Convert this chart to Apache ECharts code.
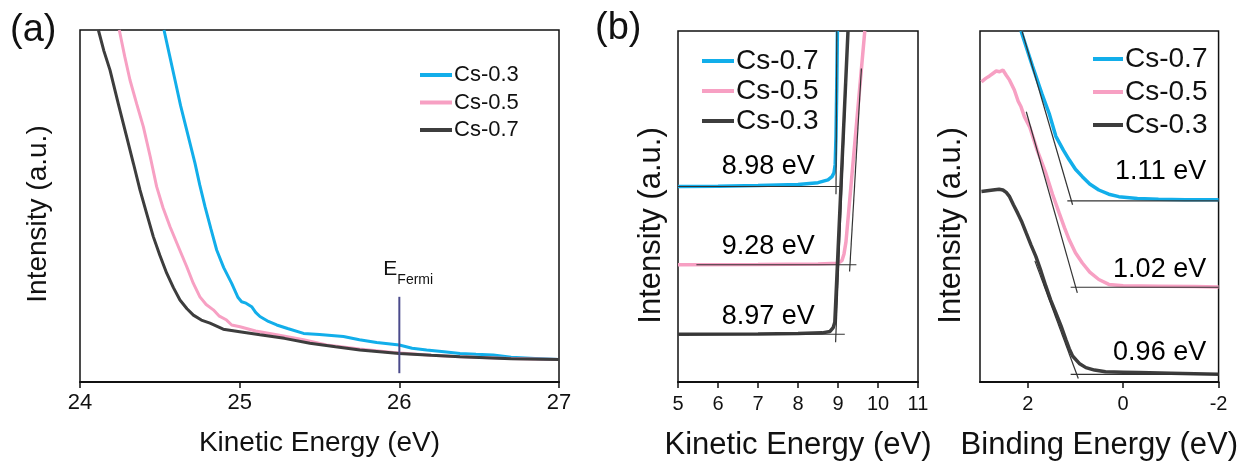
<!DOCTYPE html>
<html>
<head>
<meta charset="utf-8">
<script src="https://cdn.jsdelivr.net/npm/echarts@6/dist/echarts.min.js"></script>
<style>
html, body { margin: 0; padding: 0; background: #fff; }
#chart { width: 1241px; height: 466px; }
</style>
</head>
<body>
<div id="chart"></div>
<script>
// (a) secondary electron cut-off, kinetic energy 24-27 eV
var keA03 = [24.526, 24.56, 24.595, 24.63, 24.668, 24.72, 24.75, 24.783, 24.82, 24.856, 24.9, 24.95, 24.99, 25.012, 25.04, 25.075, 25.1, 25.127, 25.18, 25.232, 25.3, 25.4, 25.5, 25.65, 25.75, 25.858, 26.0, 26.08, 26.171, 26.28, 26.38, 26.48, 26.588, 26.7, 26.85, 27.0];
var intA03 = [100, 93, 85.8, 78.5, 71.6, 62.2, 56, 49.8, 43.5, 37.5, 32.5, 28.0, 24, 22.8, 22.4, 21.4, 19.8, 18.6, 17.2, 16.2, 15.2, 13.8, 13.5, 12.9, 12.0, 11.2, 10.5, 9.6, 9.1, 8.6, 8.1, 7.9, 7.7, 7.0, 6.7, 6.4];
var keA05 = [24.246, 24.28, 24.313, 24.355, 24.397, 24.44, 24.48, 24.52, 24.564, 24.62, 24.668, 24.71, 24.751, 24.79, 24.835, 24.87, 24.918, 24.95, 25.002, 25.1, 25.232, 25.4, 25.545, 25.75, 25.962, 26.2, 26.38, 26.7, 27.0];
var intA05 = [100, 92.5, 85.8, 79, 72.5, 64, 55.5, 49.5, 44.1, 38, 32.8, 28, 24.2, 22, 20.5, 18.8, 17.6, 16.2, 15.7, 14.5, 13.4, 12, 10.5, 9.4, 8.4, 7.6, 7.2, 6.7, 6.4];
var keA07 = [24.115, 24.15, 24.188, 24.24, 24.292, 24.335, 24.376, 24.42, 24.459, 24.5, 24.543, 24.585, 24.626, 24.67, 24.71, 24.76, 24.814, 24.897, 25.0, 25.127, 25.28, 25.44, 25.6, 25.753, 26.0, 26.2, 26.38, 26.7, 27.0];
var intA07 = [100, 94, 88.6, 79, 69.7, 62, 54.5, 47.5, 41.3, 36, 30.9, 26.8, 23.3, 20.8, 19.0, 17.6, 16.7, 15.0, 14.3, 13.4, 12.4, 11.0, 10.0, 9.1, 8.1, 7.6, 7.2, 6.6, 6.4];
var fermiKE = [26, 26];
var fermiInt = [2.5, 24.2];

// (b) left: cut-off edge, kinetic energy 5-11 eV
var keB07 = [5, 6, 7, 8, 8.5, 8.75, 8.85, 8.9, 8.93, 8.95, 8.97, 8.985];
var intB07 = [55.7, 55.8, 56.0, 56.3, 56.8, 57.6, 58.5, 59.6, 62, 70, 85, 100];
var keB05 = [5, 7, 8.5, 9.0, 9.1, 9.15, 9.2, 9.67];
var intB05 = [33.4, 33.5, 33.6, 33.8, 34.6, 36.5, 40, 100];
var keB03 = [5, 7, 8, 8.6, 8.8, 8.88, 8.92, 9.25];
var intB03 = [13.6, 13.7, 13.8, 14.0, 14.4, 15.5, 17, 100];
var fitsB1 = [
  [[5, 55.7], [9.04, 55.7]], [[8.97, 100], [8.95, 53.5]],
  [[5.46, 33.4], [9.46, 33.4]], [[9.585, 89.3], [9.29, 31.5]],
  [[5, 13.6], [9.17, 13.6]], [[8.94, 11.3], [9.2, 85]]
];
var gapTextB1 = ['8.98 eV', '9.28 eV', '8.97 eV'];
var gapIntB1 = [61.4, 38.6, 18.75];

// (b) right: valence band edge, binding energy 3 to -2 eV
var beB07 = [2.14, 1.9, 1.7, 1.55, 1.41, 1.25, 1.13, 1.0, 0.855, 0.7, 0.51, 0.3, 0.09, -0.3, -0.74, -1.3, -2];
var intBE07 = [100, 90, 82, 76.5, 70, 66, 63.3, 60.6, 58.5, 56.4, 54.7, 53.5, 52.8, 52.3, 52.1, 51.9, 51.9];
var beB05 = [2.97, 2.88, 2.8, 2.73, 2.66, 2.59, 2.52, 2.45, 2.38, 2.28, 2.2, 2.14, 2.07, 1.96, 1.8, 1.62, 1.48, 1.34, 1.23, 1.13, 1.0, 0.855, 0.7, 0.51, 0.3, 0.0, -0.74, -1.5, -2];
var intBE05 = [85.5, 86.5, 87.2, 87.9, 88.6, 88.4, 88.9, 87.4, 86, 83.2, 80, 78.4, 75.6, 72.7, 66, 59.5, 53.5, 48.1, 44, 40.5, 36.8, 33.9, 31.3, 29.2, 27.8, 27.4, 27.3, 27.2, 27.1];
var beB03 = [2.97, 2.85, 2.73, 2.6, 2.52, 2.45, 2.38, 2.3, 2.21, 2.12, 2.03, 1.93, 1.83, 1.72, 1.62, 1.52, 1.41, 1.3, 1.2, 1.13, 1.06, 0.92, 0.78, 0.6, 0.37, 0.0, -0.33, -1.0, -2];
var intBE03 = [54.3, 54.5, 54.7, 54.9, 54.7, 54, 52.8, 50.5, 48.1, 45.5, 42.4, 39, 35.8, 31.5, 27.3, 23.4, 19.7, 15.9, 12.1, 9.5, 7.4, 5.3, 4.1, 3.4, 2.9, 2.8, 2.7, 2.5, 2.2];
var fitsB2 = [
  [[2.12, 100], [1.06, 50.5]], [[1.17, 51.6], [-2, 51.6]],
  [[2.03, 77.0], [0.96, 25.4]], [[1.10, 27.0], [-2, 27.0]],
  [[1.85, 34.5], [0.94, 1.0]], [[1.10, 2.2], [-2, 2.2]]
];
var gapTextB2 = ['1.11 eV', '1.02 eV', '0.96 eV'];
var gapIntB2 = [59.9, 32.0, 8.35];

var FONT = 'Liberation Sans, Arial, sans-serif';
var BLUE = '#12aeea', PINK = '#f7a0c3', DARK = '#3d3d3d', INK = '#111';

function pairs(xs, ys) {
  return xs.map(function (x, i) { return [x, ys[i]]; });
}

function curve(name, g, xs, ys, color, w) {
  return {
    name: name, type: 'line', xAxisIndex: g, yAxisIndex: g,
    data: pairs(xs, ys), symbol: 'none', silent: true, z: 2,
    lineStyle: { color: color, width: w }, itemStyle: { color: color }
  };
}

function fits(g, list) {
  return list.map(function (seg) {
    return {
      type: 'line', xAxisIndex: g, yAxisIndex: g, data: seg, symbol: 'none',
      silent: true, z: 3, lineStyle: { color: '#333', width: 1.2 }
    };
  });
}

// band gap / cut-off values written next to each curve
function gapLabels(g, x, texts, ys) {
  return {
    type: 'scatter', xAxisIndex: g, yAxisIndex: g, symbolSize: 0, silent: true, z: 4,
    itemStyle: { opacity: 1 },
    data: texts.map(function (t, i) { return { value: [x, ys[i]], label: { formatter: t } }; }),
    label: { show: true, position: 'left', distance: 0, fontSize: 27, color: '#000', opacity: 1, fontFamily: FONT }
  };
}

function xAx(g, min, max, name, labelSize, nameSize, extra) {
  var ax = {
    gridIndex: g, type: 'value', min: min, max: max, interval: 1,
    axisLine: { show: true, lineStyle: { color: INK, width: 2 } },
    axisTick: { show: true, length: 6, lineStyle: { color: INK, width: 1.5 } },
    axisLabel: { fontSize: labelSize, margin: 10, color: INK, fontFamily: FONT },
    splitLine: { show: false },
    name: name, nameLocation: 'middle', nameGap: 47,
    nameTextStyle: { fontSize: nameSize, color: INK, fontFamily: FONT }
  };
  return Object.assign(ax, extra || {});
}

function yAx(g, gap, shift, size) {
  return {
    gridIndex: g, type: 'value', min: 0, max: 100,
    axisLine: { show: false }, axisTick: { show: false }, axisLabel: { show: false },
    splitLine: { show: false },
    name: 'Intensity (a.u.)', nameLocation: 'middle', nameGap: gap,
    nameTextStyle: { fontSize: size, color: INK, fontFamily: FONT, padding: [0, shift * 2, 0, 0] }
  };
}

function legendAt(left, top, size, gap, iconW, items) {
  return {
    orient: 'vertical', left: left, top: top, icon: 'rect',
    itemWidth: iconW, itemHeight: 4, itemGap: gap, selectedMode: false,
    textStyle: { fontSize: size, lineHeight: size, color: INK, fontFamily: FONT, padding: [0, 0, 0, -3] },
    data: items.map(function (it) { return { name: it[0], itemStyle: { color: it[1] } }; })
  };
}

var chart = echarts.init(document.getElementById('chart'));

var series = [
  curve('Cs-0.3', 0, keA03, intA03, BLUE, 3),
  curve('Cs-0.5', 0, keA05, intA05, PINK, 3),
  curve('Cs-0.7', 0, keA07, intA07, DARK, 3),
  {
    type: 'line', xAxisIndex: 0, yAxisIndex: 0, data: pairs(fermiKE, fermiInt),
    symbol: 'none', silent: true, z: 4, lineStyle: { color: '#4b4b8c', width: 2 }
  },
  curve('Cs-0.7', 1, keB07, intB07, BLUE, 3.5),
  curve('Cs-0.5', 1, keB05, intB05, PINK, 3.5),
  curve('Cs-0.3', 1, keB03, intB03, DARK, 3.5),
  curve('Cs-0.7', 2, beB07, intBE07, BLUE, 3.5),
  curve('Cs-0.5', 2, beB05, intBE05, PINK, 3.5),
  curve('Cs-0.3', 2, beB03, intBE03, DARK, 3.5),
  gapLabels(1, 8.42, gapTextB1, gapIntB1),
  gapLabels(2, -1.74, gapTextB2, gapIntB2)
].concat(fits(1, fitsB1), fits(2, fitsB2));

var option = {
  animation: false,
  backgroundColor: '#fff',
  textStyle: { fontFamily: FONT },
  grid: [
    { left: 80, top: 30, width: 479, height: 352, show: true, borderColor: INK, borderWidth: 1.5 },
    { left: 678, top: 31, width: 240, height: 352, show: true, borderColor: INK, borderWidth: 1.5 },
    { left: 980, top: 31, width: 240, height: 352, show: true, borderColor: INK, borderWidth: 1.5 }
  ],
  xAxis: [
    xAx(0, 24, 27, 'Kinetic Energy (eV)', 22, 28),
    xAx(1, 5, 11, 'Kinetic Energy (eV)', 20, 31, { nameGap: 48, axisLabel: { fontSize: 20, margin: 12, color: INK, fontFamily: FONT } }),
    xAx(2, -2, 3, 'Binding Energy (eV)', 20, 31, {
      inverse: true, interval: 2, nameGap: 48,
      axisTick: { show: true, length: 6, customValues: [2, 0, -2], lineStyle: { color: INK, width: 1.5 } },
      axisLabel: { fontSize: 20, margin: 12, color: INK, fontFamily: FONT, customValues: [2, 0, -2] }
    })
  ],
  yAxis: [yAx(0, 28, 8, 28), yAx(1, 11, 19, 31), yAx(2, 13, 19, 31)],
  legend: [
    legendAt(415, 59, 22, 5.5, 32, [['Cs-0.3', BLUE], ['Cs-0.5', PINK], ['Cs-0.7', DARK]]),
    legendAt(697, 42, 28, 2, 32, [['Cs-0.7', BLUE], ['Cs-0.5', PINK], ['Cs-0.3', DARK]]),
    legendAt(1088, 40, 28, 5, 30, [['Cs-0.7', BLUE], ['Cs-0.5', PINK], ['Cs-0.3', DARK]])
  ],
  series: series
};

chart.setOption(option);

// panel letters and the E_Fermi tag, placed from data coordinates
var fTop = chart.convertToPixel({ gridIndex: 0 }, [fermiKE[1], fermiInt[1]]);
chart.setOption({
  graphic: [
    { type: 'text', left: 10, top: 12, style: { text: '(a)', fontSize: 38, fill: INK, fontFamily: FONT } },
    { type: 'text', left: 595, top: 10, style: { text: '(b)', fontSize: 38, fill: INK, fontFamily: FONT } },
    { type: 'text', x: fTop[0] - 16, y: fTop[1] - 38, style: { text: 'E', fontSize: 21, fill: INK, fontFamily: FONT } },
    { type: 'text', x: fTop[0] - 2, y: fTop[1] - 24, style: { text: 'Fermi', fontSize: 14, fill: INK, fontFamily: FONT } }
  ]
});
</script>
</body>
</html>
